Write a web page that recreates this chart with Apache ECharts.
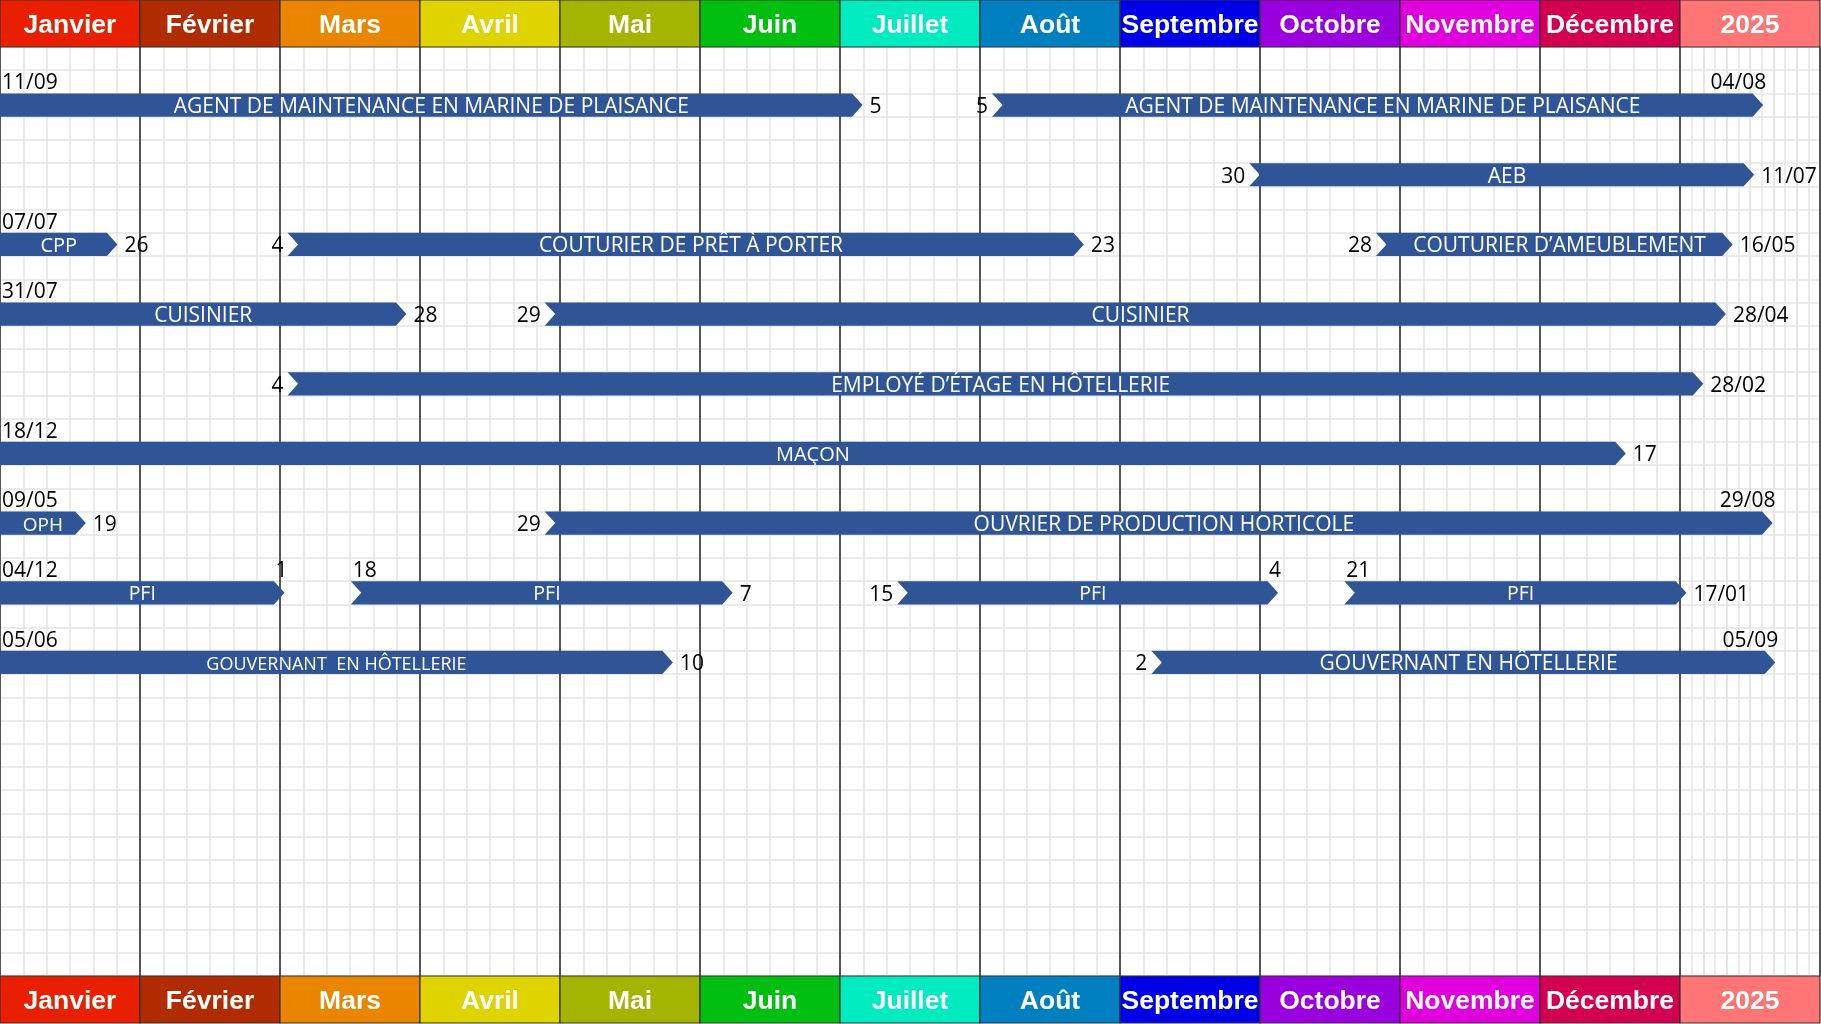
<!DOCTYPE html>
<html>
<head>
<meta charset="utf-8">
<script src="https://cdn.jsdelivr.net/npm/echarts@6/dist/echarts.min.js"></script>
<style>
html,body{margin:0;padding:0;background:#fff;}
#chart{width:1821px;height:1024px;}
</style>
</head>
<body>
<div id="chart"></div>
<script>
// ---------- data ----------
const MONTHS = ['Janvier','Février','Mars','Avril','Mai','Juin','Juillet','Août','Septembre','Octobre','Novembre','Décembre','2025'];

const BAR_NAMES = [
  'AGENT DE MAINTENANCE EN MARINE DE PLAISANCE',
  'AGENT DE MAINTENANCE EN MARINE DE PLAISANCE',
  'AEB',
  'CPP',
  'COUTURIER DE PRÊT À PORTER',
  'COUTURIER D’AMEUBLEMENT',
  'CUISINIER',
  'CUISINIER',
  'EMPLOYÉ D’ÉTAGE EN HÔTELLERIE',
  'MAÇON',
  'OPH',
  'OUVRIER DE PRODUCTION HORTICOLE',
  'PFI',
  'PFI',
  'PFI',
  'PFI',
  'GOUVERNANT  EN HÔTELLERIE',
  'GOUVERNANT EN HÔTELLERIE'
];
const BAR_ROWS = [0,0,1,2,2,2,3,3,4,5,6,6,7,7,7,7,8,8];
const BAR_STARTS = [
  '2023-09-11','2024-08-05','2024-09-30','2023-07-07','2024-03-04','2024-10-28',
  '2023-07-31','2024-04-29','2024-03-04','2023-12-18','2023-05-09','2024-04-29',
  '2023-12-04','2024-03-18','2024-07-15','2024-10-21','2023-06-05','2024-09-09'
];
const BAR_ENDS = [
  '2024-07-05','2025-08-04','2025-07-11','2024-01-26','2024-08-23','2025-05-16',
  '2024-03-28','2025-04-28','2025-02-28','2024-12-19','2024-01-19','2025-08-29',
  '2024-03-01','2024-06-07','2024-10-04','2025-01-17','2024-05-25','2025-09-05'
];
const START_TEXTS = ['11/09','5','30','07/07','4','28','31/07','29','4','18/12','09/05','29','04/12','18','15','21','05/06','2'];
const END_TEXTS   = ['5','04/08','11/07','26','23','16/05','28','28/04','28/02','17','19','29/08','1','7','4','17/01','10','05/09'];

// ---------- layout / style ----------
const START_ABOVE = [true,false,false,true,false,false,true,false,false,true,true,false,true,true,false,true,true,false];
const END_ABOVE   = [false,true,false,false,false,false,false,false,false,false,false,true,true,false,true,false,false,true];
const LABEL_SIZE  = [21,21,21,20,21,21,21,21,21,20,19,21,19.5,19.5,19.5,19.5,18,21];
const MONTH_COLORS = ['#E82000','#B02C00','#EA8500','#E0D400','#A3B500','#00BF10','#00EBC0','#0080C0','#0000E6','#9A00DE','#E000DE','#D2004E','#FF7575'];
const BAR_COLOR = '#2F5597';
const TXT_FONT = "'Open Sans', 'Noto Sans', sans-serif";
const HEAD_FONT = "'Liberation Sans', Arial, sans-serif";

// date -> position in "month columns" (2024 months = 1 column each, 2025 = one column for the year)
function dim(y, m) { return new Date(y, m, 0).getDate(); }
function datePos(str, isEnd) {
  const [y, m, d] = str.split('-').map(Number);
  const frac = (isEnd ? d : d - 1) / dim(y, m);
  if (y < 2024) return 0;
  if (y === 2024) return (m - 1) + frac;
  if (y === 2025) return 12 + ((m - 1) + frac) / 12;
  return 13;
}

const barData = BAR_NAMES.map((n, i) => [datePos(BAR_STARTS[i], false), datePos(BAR_ENDS[i], true), BAR_ROWS[i], i]);

function renderBar(params, api) {
  const i = api.value(3);
  const s = api.value(0), e = api.value(1), row = api.value(2);
  const yc = row * 3 + 2.5;
  const p1 = api.coord([s, yc]);
  const p2 = api.coord([e, yc]);
  const h = api.size([0, 1])[1];
  const mid = p1[1], top = mid - h / 2, bot = mid + h / 2;
  const clipped = s <= 0;
  const n = 10.5;
  const xs = clipped ? p1[0] : p1[0] - 6;
  const xe = p2[0];
  const pts = clipped
    ? [[xs, top], [xe - n, top], [xe, mid], [xe - n, bot], [xs, bot]]
    : [[xs, top], [xe - n, top], [xe, mid], [xe - n, bot], [xs, bot], [xs + n, mid]];
  const children = [
    { type: 'polygon', shape: { points: pts }, style: { fill: BAR_COLOR } },
    { type: 'text', style: { text: BAR_NAMES[i], x: (xs + xe) / 2 + (clipped ? 0 : n / 2), y: mid + 2, align: 'center', verticalAlign: 'middle',
        fill: '#fff', fontSize: LABEL_SIZE[i], fontFamily: TXT_FONT } }
  ];
  const numStyle = { fill: '#000', fontSize: 21, fontFamily: TXT_FONT };
  if (START_ABOVE[i]) {
    children.push({ type: 'text', style: Object.assign({ text: START_TEXTS[i], x: xs + 2, y: top - 10, align: 'left', verticalAlign: 'middle' }, numStyle) });
  } else {
    children.push({ type: 'text', style: Object.assign({ text: START_TEXTS[i], x: xs - 4, y: mid + 2, align: 'right', verticalAlign: 'middle' }, numStyle) });
  }
  if (END_ABOVE[i]) {
    children.push({ type: 'text', style: Object.assign({ text: END_TEXTS[i], x: xe + 3, y: top - 10, align: 'right', verticalAlign: 'middle' }, numStyle) });
  } else {
    children.push({ type: 'text', style: Object.assign({ text: END_TEXTS[i], x: xe + 7, y: mid + 2, align: 'left', verticalAlign: 'middle' }, numStyle) });
  }
  return { type: 'group', children };
}

function renderMonth(params, api) {
  const i = api.value(0);
  const c = api.coord([i, 1]);
  const c0 = api.coord([i, 0]);
  const bw = api.size([1, 0])[0];
  const x = c[0] - bw / 2, y = c[1], hh = c0[1] - c[1];
  return {
    type: 'group',
    children: [
      { type: 'rect', shape: { x: x, y: y, width: bw, height: hh }, style: { fill: MONTH_COLORS[i], stroke: '#333', lineWidth: 1.2 } },
      { type: 'text', style: { text: MONTHS[i], x: c[0], y: y + hh / 2 + 2.5, align: 'center', verticalAlign: 'middle',
          fill: '#fff', fontSize: 26.5, fontWeight: 'bold', fontFamily: HEAD_FONT } }
    ]
  };
}

const monthData = MONTHS.map((m, i) => [i]);

const chart = echarts.init(document.getElementById('chart'), null, { renderer: 'canvas' });
chart.setOption({
  animation: false,
  backgroundColor: '#fff',
  grid: [
    { left: 0, top: 47, width: 1820, height: 929 },
    { left: 1680, top: 47, width: 140, height: 929 },
    { left: 0, top: 0, width: 1820, height: 47 },
    { left: 0, top: 976, width: 1820, height: 47 }
  ],
  xAxis: [
    { gridIndex: 1, type: 'value', min: 0, max: 12, interval: 1,
      axisLine: { show: false }, axisTick: { show: false }, axisLabel: { show: false },
      splitLine: { show: true, lineStyle: { color: '#e4e4e4', width: 1.5 } } },
    { gridIndex: 0, type: 'value', min: 0, max: 13, interval: 1,
      axisLine: { show: false }, axisTick: { show: false }, axisLabel: { show: false },
      minorTick: { show: false, splitNumber: 6 },
      minorSplitLine: { show: true, lineStyle: { color: '#e4e4e4', width: 1.5 } },
      splitLine: { show: true, lineStyle: { color: '#555', width: 2 } } },
    { gridIndex: 2, type: 'category', data: MONTHS, show: false },
    { gridIndex: 3, type: 'category', data: MONTHS, show: false }
  ],
  yAxis: [
    { gridIndex: 1, type: 'value', min: 0, max: 40, show: false },
    { gridIndex: 0, type: 'value', min: 0, max: 40, interval: 1, inverse: true,
      axisLine: { show: false }, axisTick: { show: false }, axisLabel: { show: false },
      splitLine: { show: true, lineStyle: { color: '#e4e4e4', width: 1.5 } } },
    { gridIndex: 2, type: 'value', min: 0, max: 1, show: false },
    { gridIndex: 3, type: 'value', min: 0, max: 1, show: false }
  ],
  series: [
    { type: 'custom', xAxisIndex: 1, yAxisIndex: 1, renderItem: renderBar, data: barData, clip: false,
      encode: { x: [0, 1], y: 2 }, z: 5 },
    { type: 'custom', xAxisIndex: 2, yAxisIndex: 2, renderItem: renderMonth, data: monthData, encode: { x: 0 } },
    { type: 'custom', xAxisIndex: 3, yAxisIndex: 3, renderItem: renderMonth, data: monthData, encode: { x: 0 } }
  ]
});
</script>
</body>
</html>
